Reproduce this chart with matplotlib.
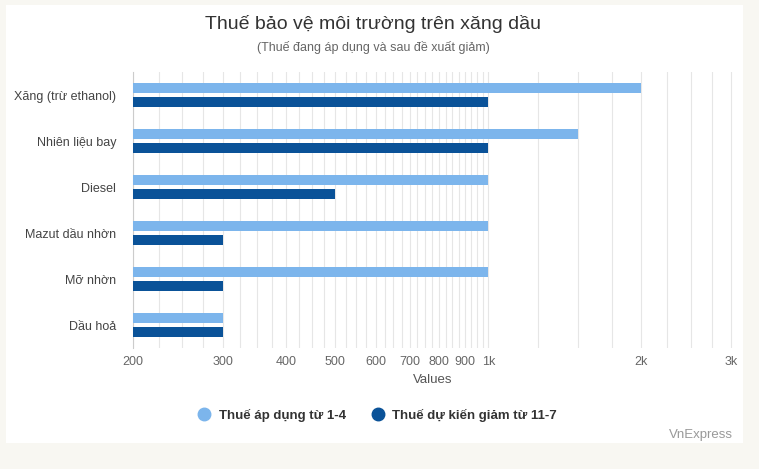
import matplotlib.pyplot as plt
from matplotlib.patches import Rectangle
from matplotlib.lines import Line2D
from matplotlib.ticker import FixedLocator, NullFormatter, NullLocator
import numpy as np

plt.rcParams['font.family'] = ['Liberation Sans', 'DejaVu Sans']

categories = ["Xăng (trừ ethanol)", "Nhiên liệu bay", "Diesel",
              "Mazut dầu nhờn", "Mỡ nhờn", "Dầu hoả"]
thue_ap_dung = [2000, 1500, 1000, 1000, 1000, 300]
thue_giam = [1000, 1000, 500, 300, 300, 300]
series_names = ["Thuế áp dụng từ 1-4", "Thuế dự kiến giảm từ 11-7"]
major_ticks = [200, 300, 400, 500, 600, 700, 800, 900, 1000, 2000, 3000]
major_labels = ["200", "300", "400", "500", "600", "700", "800", "900", "1k", "2k", "3k"]

light = "#7cb5ec"
dark = "#0a5298"

fig = plt.figure(figsize=(7.59, 4.69), dpi=100)
fig.patch.set_facecolor("#f8f7f2")
fig.patches.append(Rectangle((6 / 759, 1 - 443 / 469), 737 / 759, 438 / 469,
                             transform=fig.transFigure, facecolor="white",
                             edgecolor="none", zorder=-1))

ax = fig.add_axes([133 / 759, 1 - 348 / 469, 600 / 759, 276 / 469])
ax.set_zorder(1)
ax.set_facecolor("white")

y = np.arange(len(categories))
h = 0.22
ax.set_xscale("log")
ax.barh(y - 0.15, thue_ap_dung, height=h, color=light, zorder=3)
ax.barh(y + 0.15, thue_giam, height=h, color=dark, zorder=3)

ax.set_xlim(200, 3030)
ax.set_ylim(len(categories) - 0.5, -0.5)

# luoi phu: buoc 25 den 1k, buoc 250 sau do
grid_vals = list(range(200, 1000, 25)) + list(range(1000, 3001, 250))
for g in grid_vals:
    ax.axvline(g, color="#e6e6e6", lw=0.8, zorder=1)

ax.xaxis.set_major_locator(FixedLocator(major_ticks))
ax.set_xticklabels(major_labels)
ax.xaxis.set_minor_locator(NullLocator())
ax.xaxis.set_minor_formatter(NullFormatter())
ax.tick_params(axis="x", length=0, pad=6, labelsize=9, labelcolor="#666666")

ax.set_yticks(y)
ax.set_yticklabels(categories)
ax.tick_params(axis="y", length=0, pad=12, labelsize=9, labelcolor="#444444")

for s in ["top", "right", "bottom"]:
    ax.spines[s].set_visible(False)
ax.spines["left"].set_color("#cccccc")
ax.spines["left"].set_linewidth(0.8)

ax.set_xlabel("Values", fontsize=9.5, color="#555555", labelpad=4)

fig.text(373 / 759, 1 - 24 / 469, "Thuế bảo vệ môi trường trên xăng dầu",
         ha="center", va="center", fontsize=14, color="#333333")
fig.text(373 / 759, 1 - 48 / 469, "(Thuế đang áp dụng và sau đề xuất giảm)",
         ha="center", va="center", fontsize=9, color="#666666")

handles = [Line2D([], [], marker="o", ls="", color=light, markersize=9),
           Line2D([], [], marker="o", ls="", color=dark, markersize=9)]
leg = fig.legend(handles, series_names, loc="center", bbox_to_anchor=(374 / 759, 1 - 415 / 469),
                 ncol=2, frameon=False, prop={"weight": "bold", "size": 9.5},
                 handletextpad=0.1, columnspacing=1.4)
for t in leg.get_texts():
    t.set_color("#333333")

fig.text(733 / 759, 1 - 435 / 469, "VnExpress", ha="right", va="center",
         fontsize=9.5, color="#999999")

fig.savefig("out.png", dpi=100, facecolor=fig.get_facecolor())
